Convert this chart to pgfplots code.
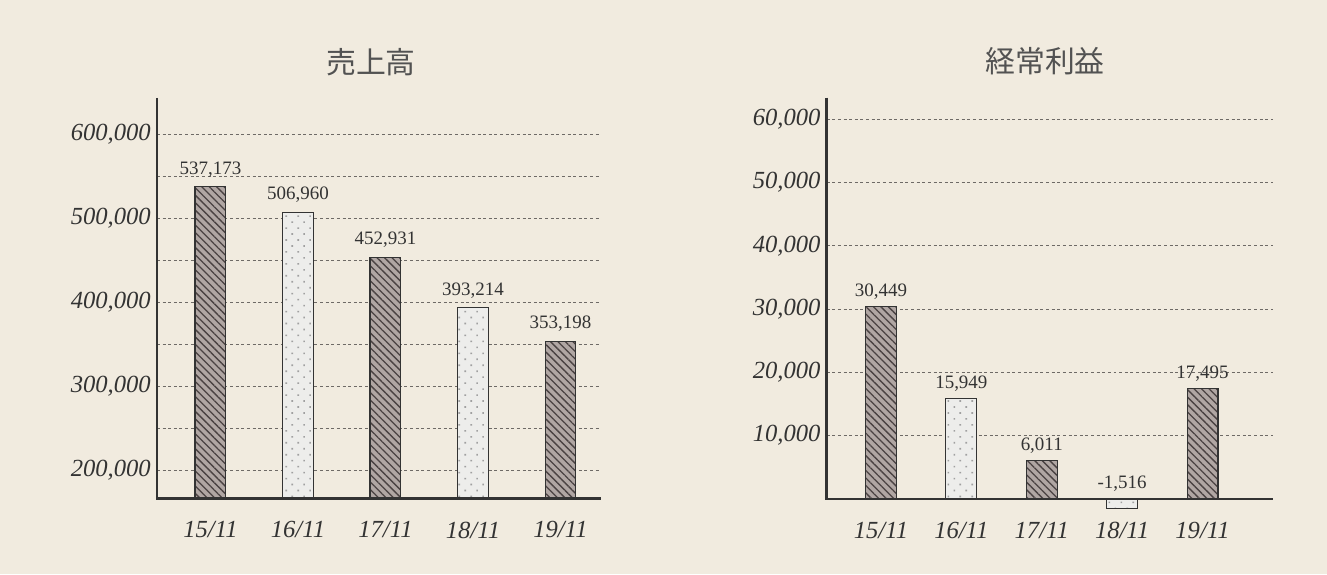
\documentclass[border=0pt]{standalone}
\usepackage{pgfplots}
\pgfplotsset{compat=1.18}
\usepackage{pgfplotstable}
\usepackage{fontspec}
\setmainfont{Liberation Serif}
\newfontfamily\jp{Noto Sans CJK JP}
\usetikzlibrary{patterns.meta}
\definecolor{bg}{HTML}{F1EBDF}
\definecolor{txt}{HTML}{333333}
\definecolor{hatchfill}{HTML}{B0A6A3}
\definecolor{hatchline}{HTML}{4A4242}
\definecolor{dotfill}{HTML}{EDEDEB}
\definecolor{dotcol}{HTML}{A0A0A0}
\definecolor{gridc}{HTML}{6E6A66}

\pgfplotstableread{
x y l
0 537173 537,173
2 452931 452,931
4 353198 353,198
}\LeftHatch
\pgfplotstableread{
x y l
1 506960 506,960
3 393214 393,214
}\LeftDot
\pgfplotstableread{
x y l
0 30449 30,449
2 6011 6,011
4 17495 17,495
}\RightHatch
\pgfplotstableread{
x y l
1 15949 15,949
}\RightDot
\pgfplotstableread{
x y
3 -1516
}\RightNeg

\pgfplotsset{
  common/.style={
    scale only axis, ybar, bar width=17.6pt, bar shift=0pt,
    axis lines=left, axis line style={draw=none,-},
    clip mode=individual,
    scaled y ticks=false,
    major tick length=0pt, minor tick length=0pt,
    xtick={0,1,2,3,4},
    xticklabels={15/11,16/11,17/11,18/11,19/11},
    ymajorgrids, yminorgrids,
    major grid style={dash pattern=on 1.7pt off 1.5pt, gridc, line width=0.55pt},
    minor grid style={dash pattern=on 1.7pt off 1.5pt, gridc, line width=0.55pt},
    yticklabel style={font=\fontsize{14}{16}\selectfont\itshape, text=txt},
    point meta=explicit symbolic,
  },
  hatch/.style={fill=hatchfill, draw=txt, line width=0.6pt,
    postaction={pattern={Lines[angle=-45,distance=3pt,line width=0.75pt]}, pattern color=hatchline}},
  dotted/.style={fill=dotfill, draw=txt, line width=0.6pt,
    postaction={pattern={Dots[angle=45,distance=4.8pt,radius=0.65pt]}, pattern color=dotcol}},
}

\begin{document}
\begin{tikzpicture}
\useasboundingbox (0,0) rectangle (26.54cm,11.48cm);
\fill[bg] (0,0) rectangle (26.54cm,11.48cm);

\node[font=\jp\fontsize{17}{20}\selectfont, text=txt!85] at (7.42cm,10.23cm) {売上高};
\node[font=\jp\fontsize{17}{20}\selectfont, text=txt!85] at (20.9cm,10.26cm) {経常利益};

% Left chart
\begin{axis}[common,
  at={(3.14cm,1.514cm)}, anchor=south west,
  width=8.88cm, height=8.006cm,
  xmin=-0.611, xmax=4.463, ymin=166300, ymax=643000,
  ytick={200000,300000,400000,500000,600000},
  yticklabels={{200,000},{300,000},{400,000},{500,000},{600,000}},
  minor ytick={250000,350000,450000,550000},
  xticklabel style={font=\fontsize{14}{16}\selectfont\itshape, text=txt, anchor=center, yshift=-18pt},
  nodes near coords,
  every node near coord/.append style={font=\fontsize{10.8}{12}\selectfont, text=txt, anchor=base, yshift=7.2pt},
]
\addplot[hatch] table[x=x,y=y,meta=l] {\LeftHatch};
\addplot[dotted] table[x=x,y=y,meta=l] {\LeftDot};
\draw[line width=1.5pt, txt] (rel axis cs:0,1) -- (rel axis cs:0,0) -- (rel axis cs:1,0);
\end{axis}

% Right chart
\begin{axis}[common,
  at={(16.534cm,1.184cm)}, anchor=south west,
  width=8.92cm, height=8.342cm,
  xmin=-0.675, xmax=4.873, ymin=-2500, ymax=63400,
  ytick={10000,20000,30000,40000,50000,60000},
  yticklabels={{10,000},{20,000},{30,000},{40,000},{50,000},{60,000}},
  yminorgrids=false,
  xticklabel style={font=\fontsize{14}{16}\selectfont\itshape, text=txt, anchor=center, yshift=-8.7pt},
  every node near coord/.append style={font=\fontsize{10.8}{12}\selectfont, text=txt, anchor=base, yshift=5.7pt},
]
\addplot[hatch, nodes near coords] table[x=x,y=y,meta=l] {\RightHatch};
\addplot[dotted, nodes near coords] table[x=x,y=y,meta=l] {\RightDot};
\addplot[dotted, point meta=none] table[x=x,y=y] {\RightNeg};
\node[font=\fontsize{10.8}{12}\selectfont, text=txt, anchor=base, yshift=6.1pt] at (axis cs:3,0) {-1,516};
\draw[line width=1.5pt, txt] (axis cs:-0.675,63400) -- (axis cs:-0.675,0) -- (axis cs:4.873,0);
\end{axis}
\end{tikzpicture}
\end{document}
